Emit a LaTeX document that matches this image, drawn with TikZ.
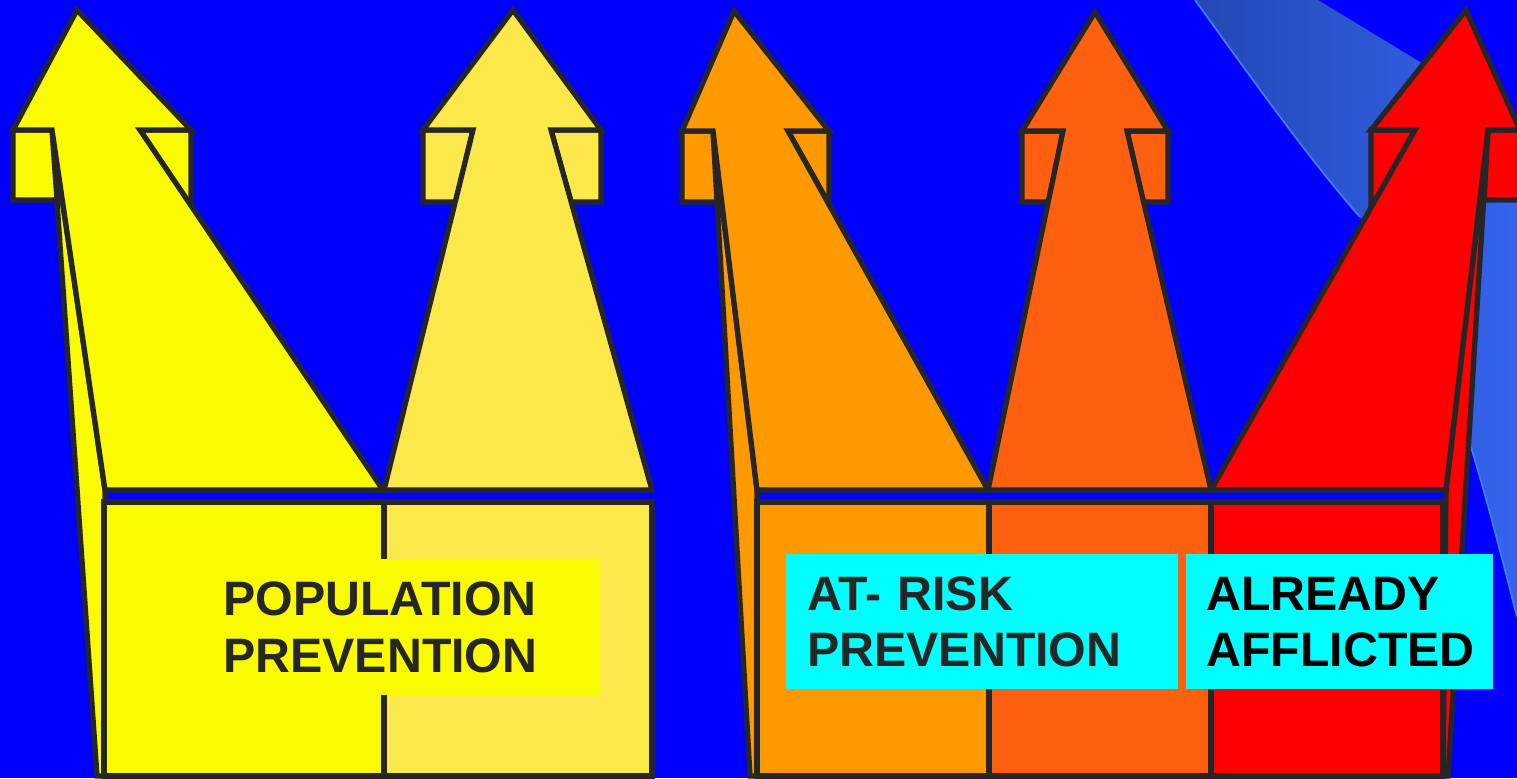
\documentclass[tikz,border=0pt]{standalone}
\usepackage{fontspec}
\setmainfont{Liberation Sans}
\usepackage{xcolor}

\definecolor{bgblue}{RGB}{0,0,255}
\definecolor{yelA}{RGB}{250,250,0}
\definecolor{yelB}{RGB}{252,232,72}
\definecolor{orgA}{RGB}{255,153,0}
\definecolor{orgB}{RGB}{255,96,16}
\definecolor{redA}{RGB}{255,0,0}
\definecolor{outl}{RGB}{38,38,38}
\definecolor{labelcyan}{RGB}{0,255,255}
\definecolor{bandL}{RGB}{36,72,180}
\definecolor{bandR}{RGB}{52,100,238}
\definecolor{bandedge}{RGB}{64,128,255}

\begin{document}
\begin{tikzpicture}[x=0.02cm, y=-0.02cm,
    part/.style={draw=outl, line width=3pt},
    lbl/.style={anchor=north west, align=left, inner ysep=0pt,
                font=\fontsize{27.5}{32}\selectfont\bfseries},
]
  \useasboundingbox (0,0) rectangle (1517,778);
  \clip (0,0) rectangle (1517,778);
  \fill[bgblue] (0,0) rectangle (1517,778);

  % ---- Swoosh, top right ----
  \shade[left color=bandL, right color=bandR]
    (1195,0) .. controls (1260,90) and (1310,160) .. (1360,217)
    -- (1471,447) .. controls (1490,510) and (1505,570) .. (1517,617)
    -- (1517,140) -- (1420,62) -- (1318,0) -- cycle;
  \draw[bandedge, line width=1pt]
    (1195,0) .. controls (1260,90) and (1310,160) .. (1360,217);
  \draw[bandedge, line width=1pt]
    (1471,447) .. controls (1490,510) and (1505,570) .. (1517,617);

  % ---- Left block: population ----
  \filldraw[part, fill=yelA] (52,130) -- (97,776) -- (104,776) -- (105,490) -- cycle;
  \filldraw[part, fill=yelA] (104,502) rectangle (384,776);
  \filldraw[part, fill=yelB] (384,502) rectangle (652,776);

  % arrow 1
  \filldraw[part, fill=yelA] (13,130) -- (52,130) -- (57,200) -- (13,200) -- cycle;
  \filldraw[part, fill=yelA] (140,130) -- (191,130) -- (191,206) -- cycle;
  \filldraw[part, fill=yelA] (13,130) -- (77,10) -- (191,130) -- (140,130)
    -- (383,490) -- (105,490) -- (52,130) -- cycle;

  % arrow 2
  \filldraw[part, fill=yelB] (423,130) -- (473,130) -- (456,202) -- (423,202) -- cycle;
  \filldraw[part, fill=yelB] (551,130) -- (601,130) -- (601,202) -- (571,202) -- cycle;
  \filldraw[part, fill=yelB] (423,130) -- (513,10) -- (601,130) -- (551,130)
    -- (652,490) -- (384,490) -- (473,130) -- cycle;

  % ---- Right block: at-risk, afflicted ----
  \filldraw[part, fill=orgA] (713,131) -- (750,776) -- (757,776) -- (757,490) -- cycle;
  \filldraw[part, fill=redA] (1488,130) -- (1448,776) -- (1443,776) -- (1446,490) -- cycle;
  \filldraw[part, fill=orgA] (757,502) rectangle (989,776);
  \filldraw[part, fill=orgB] (989,502) rectangle (1211,776);
  \filldraw[part, fill=redA] (1211,502) rectangle (1443,776);

  % arrow 3
  \filldraw[part, fill=orgA] (682,131) -- (713,131) -- (717,202) -- (682,202) -- cycle;
  \filldraw[part, fill=orgA] (788,131) -- (829,131) -- (829,204) -- cycle;
  \filldraw[part, fill=orgA] (682,131) -- (734,11) -- (829,131) -- (788,131)
    -- (988,490) -- (757,490) -- (713,131) -- cycle;

  % arrow 4
  \filldraw[part, fill=orgB] (1022,131) -- (1063,131) -- (1049,202) -- (1022,202) -- cycle;
  \filldraw[part, fill=orgB] (1127,131) -- (1168,131) -- (1168,202) -- (1143,202) -- cycle;
  \filldraw[part, fill=orgB] (1022,131) -- (1095,12) -- (1168,131) -- (1127,131)
    -- (1211,490) -- (988,490) -- (1063,131) -- cycle;

  % arrow 5
  \filldraw[part, fill=redA] (1371,130) -- (1415,130) -- (1371,208) -- cycle;
  \filldraw[part, fill=redA] (1488,130) -- (1526,130) -- (1526,200) -- (1484,200) -- cycle;
  \filldraw[part, fill=redA] (1371,130) -- (1466,10) -- (1520,130) -- (1488,130)
    -- (1446,490) -- (1211,490) -- (1415,130) -- cycle;

  % ---- Labels ----
  \node[lbl, fill=yelA, text=outl, minimum width=7.74cm, minimum height=2.72cm,
        text width=7.34cm, inner xsep=0.2cm] (popl) at (213,559)
    {POPULATION\\PREVENTION};
  \node[lbl, fill=labelcyan, text=outl, minimum width=7.84cm, minimum height=2.7cm,
        text width=7.0cm, inner xsep=0.42cm] (riskl) at (786,554)
    {AT- RISK\\PREVENTION};
  \node[lbl, fill=labelcyan, text=black, minimum width=6.14cm, minimum height=2.7cm,
        text width=5.34cm, inner xsep=0.4cm] (afflictl) at (1186,554)
    {ALREADY\\AFFLICTED};

\end{tikzpicture}
\end{document}
